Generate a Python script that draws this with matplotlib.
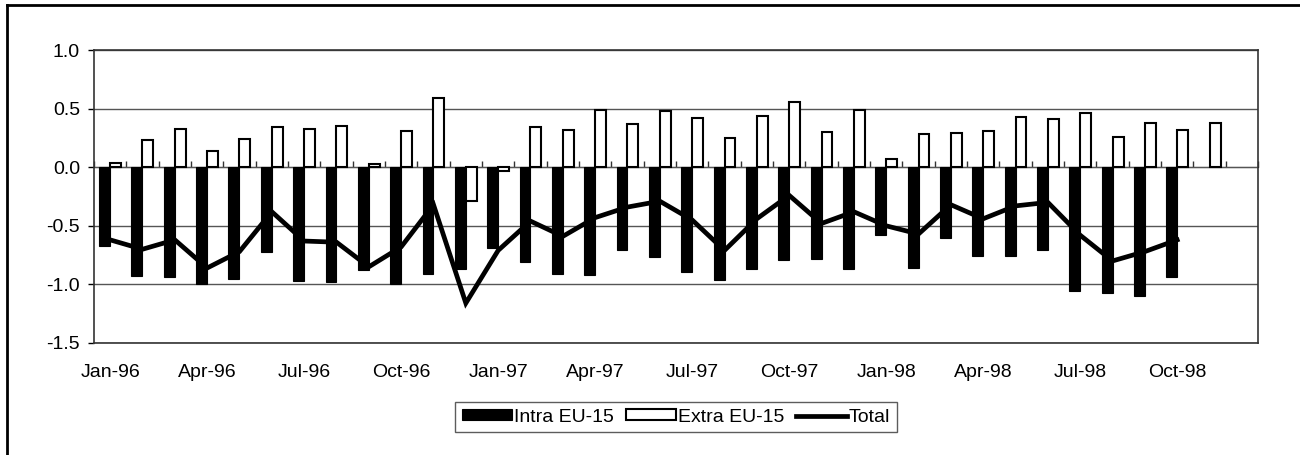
import numpy as np
import matplotlib
matplotlib.use("Agg")
import matplotlib.pyplot as plt
from matplotlib.lines import Line2D

# ============================================================
# DATA
# ============================================================

MONTHS = [
    "Jan-96", "Feb-96", "Mar-96", "Apr-96", "May-96", "Jun-96",
    "Jul-96", "Aug-96", "Sep-96", "Oct-96", "Nov-96", "Dec-96",
    "Jan-97", "Feb-97", "Mar-97", "Apr-97", "May-97", "Jun-97",
    "Jul-97", "Aug-97", "Sep-97", "Oct-97", "Nov-97", "Dec-97",
    "Jan-98", "Feb-98", "Mar-98", "Apr-98", "May-98", "Jun-98",
    "Jul-98", "Aug-98", "Sep-98", "Oct-98", "Nov-98", "Dec-98",
]

INTRA = [
    -0.67, -0.93, -0.94, -1.00, -0.95, -0.72, -0.97, -0.98, -0.88, -1.00, -0.91, -0.87,
    -0.69, -0.81, -0.91, -0.92, -0.71, -0.77, -0.89, -0.96, -0.87, -0.79, -0.78, -0.87,
    -0.58, -0.86, -0.60, -0.76, -0.76, -0.71, -1.06, -1.07, -1.10, -0.94, np.nan, np.nan,
]

EXTRA = [
    0.04, 0.23, 0.33, 0.14, 0.24, 0.34, 0.33, 0.35, 0.03, 0.31, 0.59, -0.29,
    -0.03, 0.34, 0.32, 0.49, 0.37, 0.48, 0.42, 0.25, 0.44, 0.56, 0.30, 0.49,
    0.07, 0.28, 0.29, 0.31, 0.43, 0.41, 0.46, 0.26, 0.38, 0.32, 0.38, np.nan,
]

TOTAL = [
    -0.62, -0.70, -0.62, -0.86, -0.72, -0.38, -0.63, -0.64, -0.85, -0.68, -0.32, -1.16,
    -0.71, -0.46, -0.59, -0.43, -0.34, -0.29, -0.45, -0.71, -0.44, -0.24, -0.48, -0.38,
    -0.50, -0.57, -0.32, -0.44, -0.33, -0.30, -0.58, -0.80, -0.72, -0.62, np.nan, np.nan,
]

TICK_LABELS = ["Jan-96", "Apr-96", "Jul-96", "Oct-96", "Jan-97", "Apr-97",
               "Jul-97", "Oct-97", "Jan-98", "Apr-98", "Jul-98", "Oct-98"]

Y_MIN, Y_MAX = -1.5, 1.0
BAR_W = 0.34
FONT_SIZE = 14

plt.rcParams["font.family"] = ["Liberation Sans", "DejaVu Sans"]


def main() -> None:
    x = np.arange(len(MONTHS))

    fig = plt.figure(figsize=(13, 4.55), dpi=100)
    ax = fig.add_axes([0.0723, 0.2462, 0.8954, 0.6438])

    intra = ax.bar(x - BAR_W / 2, INTRA, width=BAR_W, color="black",
                   edgecolor="black", linewidth=0.8, label="Intra EU-15", zorder=3)
    extra = ax.bar(x + BAR_W / 2, EXTRA, width=BAR_W, color="white",
                   edgecolor="black", linewidth=1.5, label="Extra EU-15", zorder=3)
    total, = ax.plot(x, TOTAL, color="black", linewidth=3.4, label="Total", zorder=4,
                     solid_joinstyle="miter")

    ax.set_xlim(-0.5, len(MONTHS) - 0.5)
    ax.set_ylim(Y_MIN, Y_MAX)

    # y axis
    ax.set_yticks(np.arange(Y_MIN, Y_MAX + 0.01, 0.5))
    ax.yaxis.set_major_formatter(plt.FormatStrFormatter("%.1f"))
    ax.tick_params(axis="y", length=4, width=1, pad=6, labelsize=FONT_SIZE)
    ax.yaxis.grid(True, color="#555555", linewidth=1)
    ax.set_axisbelow(True)

    # category labels at the bottom, no tick marks there
    tick_pos = [MONTHS.index(t) for t in TICK_LABELS]
    ax.set_xticks(tick_pos)
    ax.set_xticklabels(TICK_LABELS)
    ax.tick_params(axis="x", length=0, pad=15, labelsize=FONT_SIZE)

    for side in ["left", "right", "top", "bottom"]:
        ax.spines[side].set_color("#333333")
        ax.spines[side].set_linewidth(1.2)

    # category axis crossing at zero, with ticks between months
    zero_frac = (0 - Y_MIN) / (Y_MAX - Y_MIN)
    sec = ax.secondary_xaxis(zero_frac)
    sec.set_xticks(np.arange(len(MONTHS) + 1) - 0.5)
    sec.set_xticklabels([])
    sec.tick_params(axis="x", direction="out", length=4, width=1, color="#333333")
    sec.spines["bottom"].set_color("#333333")
    sec.spines["bottom"].set_linewidth(1.2)

    leg = ax.legend(
        handles=[intra, extra, total],
        labels=["Intra EU-15", "Extra EU-15", "Total"],
        loc="center",
        bbox_to_anchor=(0.5, -0.253),
        ncol=3,
        frameon=True,
        fancybox=False,
        edgecolor="#333333",
        fontsize=FONT_SIZE,
        handlelength=2.6,
        handleheight=0.45,
        handletextpad=0.1,
        columnspacing=0.6,
        borderpad=0.35,
    )
    leg.get_frame().set_linewidth(1.0)

    # outer chart frame (left and top visible in the reference)
    fig.add_artist(Line2D([0.005, 0.005], [0, 0.99], transform=fig.transFigure,
                          color="black", linewidth=2))
    fig.add_artist(Line2D([0.005, 1.0], [0.99, 0.99], transform=fig.transFigure,
                          color="black", linewidth=2))

    fig.savefig("out.png", dpi=100, facecolor="white")
    plt.close(fig)


if __name__ == "__main__":
    main()
